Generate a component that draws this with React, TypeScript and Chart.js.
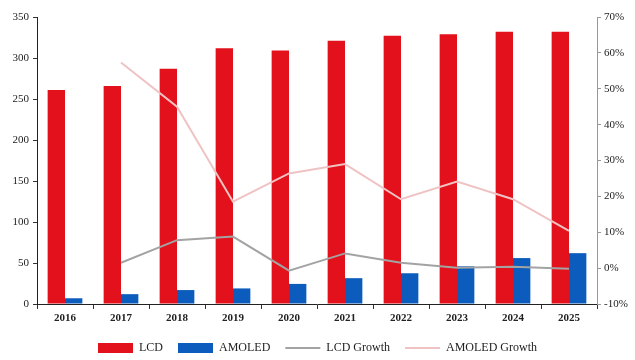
import React, { useEffect, useRef } from "react";
import { Chart, registerables } from "chart.js";

Chart.register(...registerables);

const years = ["2016", "2017", "2018", "2019", "2020", "2021", "2022", "2023", "2024", "2025"];
const lcd = [261, 266, 287, 312, 309, 321, 327, 329, 332, 332];
const amoled = [7, 12, 17, 19, 24.5, 31.5, 37.5, 46, 56, 62];
const lcdGrowth = [null, 1.5, 7.8, 8.8, -0.7, 4.1, 1.5, 0.1, 0.4, -0.2];
const amoledGrowth = [null, 57.3, 45, 18.5, 26.4, 29, 19.2, 24.1, 19.2, 10.4];

const FONT = "'Liberation Serif', 'Times New Roman', serif";

// Nudges the legend a few pixels lower after layout, leaving the plot area untouched.
const legendOffset = {
  id: "legendOffset",
  afterLayout(chart: any) {
    const lg = chart.legend;
    if (lg) {
      lg.top += 4;
      lg.bottom += 4;
    }
  },
};

export default function App() {
  const canvasRef = useRef<HTMLCanvasElement | null>(null);

  useEffect(() => {
    if (!canvasRef.current) return;
    const chart = new Chart(canvasRef.current, {
      type: "bar",
      data: {
        labels: years,
        datasets: [
          {
            type: "bar",
            label: "LCD",
            data: lcd,
            backgroundColor: "#e3111b",
            borderWidth: 0,
            yAxisID: "y",
            order: 1,
            pointStyle: "rect",
          },
          {
            type: "bar",
            label: "AMOLED",
            data: amoled,
            backgroundColor: "#0b5cbd",
            borderWidth: 0,
            yAxisID: "y",
            order: 1,
            pointStyle: "rect",
          },
          {
            type: "line",
            label: "LCD Growth",
            data: lcdGrowth,
            borderColor: "#a3a3a3",
            backgroundColor: "#a3a3a3",
            borderWidth: 2,
            pointRadius: 0,
            tension: 0,
            yAxisID: "y1",
            order: 0,
            pointStyle: "line",
          },
          {
            type: "line",
            label: "AMOLED Growth",
            data: amoledGrowth,
            borderColor: "#efc3c3",
            backgroundColor: "#efc3c3",
            borderWidth: 2,
            pointRadius: 0,
            tension: 0,
            yAxisID: "y1",
            order: 0,
            pointStyle: "line",
          },
        ],
      },
      options: {
        animation: false,
        responsive: false,
        maintainAspectRatio: false,
        layout: { padding: { top: 17, left: 0, right: 0, bottom: 0 } },
        datasets: {
          bar: { categoryPercentage: 0.62, barPercentage: 1 },
        },
        plugins: {
          tooltip: { enabled: false },
          legend: {
            position: "bottom",
            labels: {
              usePointStyle: true,
              pointStyleWidth: 35,
              boxHeight: 10,
              padding: 15,
              color: "#222",
              font: { family: FONT, size: 12 },
              sort: (a: any, b: any) => a.datasetIndex - b.datasetIndex,
            },
          },
        },
        scales: {
          x: {
            grid: {
              display: true,
              drawOnChartArea: false,
              drawTicks: true,
              tickLength: 5,
              color: "#333",
              offset: true,
            },
            border: { display: true, color: "#222", width: 1 },
            ticks: {
              color: "#222",
              font: { family: FONT, size: 11, weight: "bold" },
              padding: 3,
              maxRotation: 0,
            },
            afterFit: (s: any) => {
              s.height = 19;
            },
          },
          y: {
            position: "left",
            min: 0,
            max: 350,
            grid: { display: true, drawOnChartArea: false, drawTicks: true, tickLength: 4, color: "#333" },
            border: { display: true, color: "#222", width: 1 },
            ticks: {
              stepSize: 50,
              color: "#222",
              font: { family: FONT, size: 11 },
              padding: 4,
            },
            afterFit: (s: any) => {
              s.width = 37;
            },
          },
          y1: {
            position: "right",
            min: -10,
            max: 70,
            grid: { display: true, drawOnChartArea: false, drawTicks: true, tickLength: 4, color: "#999" },
            border: { display: true, color: "#999", width: 1 },
            ticks: {
              stepSize: 10,
              color: "#222",
              font: { family: FONT, size: 11 },
              padding: 3,
              callback: (v: any) => `${v}%`,
            },
            afterFit: (s: any) => {
              s.width = 38;
            },
          },
        },
      },
      plugins: [legendOffset],
    });
    return () => chart.destroy();
  }, []);

  return (
    <div style={{ position: "fixed", left: 0, top: 0, width: 635, height: 360, background: "#fff" }}>
      <canvas ref={canvasRef} width={635} height={360} />
    </div>
  );
}
